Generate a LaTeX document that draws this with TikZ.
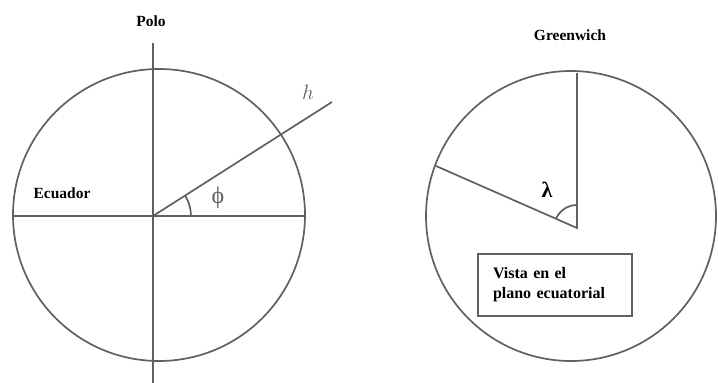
\documentclass[tikz,border=0pt]{standalone}
\usepackage{fontspec}
\setmainfont{Liberation Serif}
\usetikzlibrary{angles}
\definecolor{linegray}{RGB}{96,96,96}

\begin{document}
\begin{tikzpicture}[
x=1pt, y=-1pt,
line/.style={draw=linegray, line width=1.7pt},
lbl/.style={font=\fontsize{15.5}{20}\selectfont\bfseries, inner sep=0pt},
greek/.style={font=\fontsize{24}{26}\selectfont, inner sep=0pt, text=linegray},
vista/.style={draw=linegray, line width=1.7pt, align=left, text width=124pt, inner xsep=15pt, minimum height=62pt, font=\fontsize{16}{20}\selectfont\bfseries}
]
\useasboundingbox (0,0) rectangle (718,383);
% corte meridiano
\coordinate (o1) at (153,216);
\coordinate (pn) at (153,43);
\coordinate (ps) at (153,383);
\coordinate (ew) at (13,216);
\coordinate (ee) at (305,216);
\coordinate (hend) at (332,102);
\draw[line] (159,215) circle[radius=146pt];
\draw[line] (pn) -- (ps);
\draw[line] (ew) -- (ee);
\draw[line] (o1) -- (hend);
\pic[line, angle radius=38pt] {angle=ee--o1--hend};
\node[lbl] (polo) at (151,21) {Polo};
\node[lbl] (ecuador) at (62,193) {Ecuador};
\node[font=\fontsize{22}{24}\selectfont, inner sep=0pt, text=linegray] (hlbl) at (308,92) {$h$};
\node[greek] (phi) at (218,198) {\symbol{"03D5}};
% plano ecuatorial
\coordinate (o2) at (577,228);
\coordinate (gtop) at (577,73);
\coordinate (gmid) at (577,107);
\coordinate (lon) at (436,166);
\draw[line] (571,216) circle[radius=145pt];
\draw[line] (gtop) -- (o2) -- (lon);
\draw[draw=linegray, line width=2.4pt] (gtop) -- (gmid);
\pic[line, angle radius=23pt] {angle=gtop--o2--lon};
\node[lbl] (greenwich) at (570,35) {Greenwich};
\node[greek, font=\fontsize{22}{24}\selectfont\bfseries, text=black] (lambda) at (547,190) {λ};
\node[vista] (vista) at (555,285) {Vista en el\\plano ecuatorial};
\end{tikzpicture}
\end{document}
